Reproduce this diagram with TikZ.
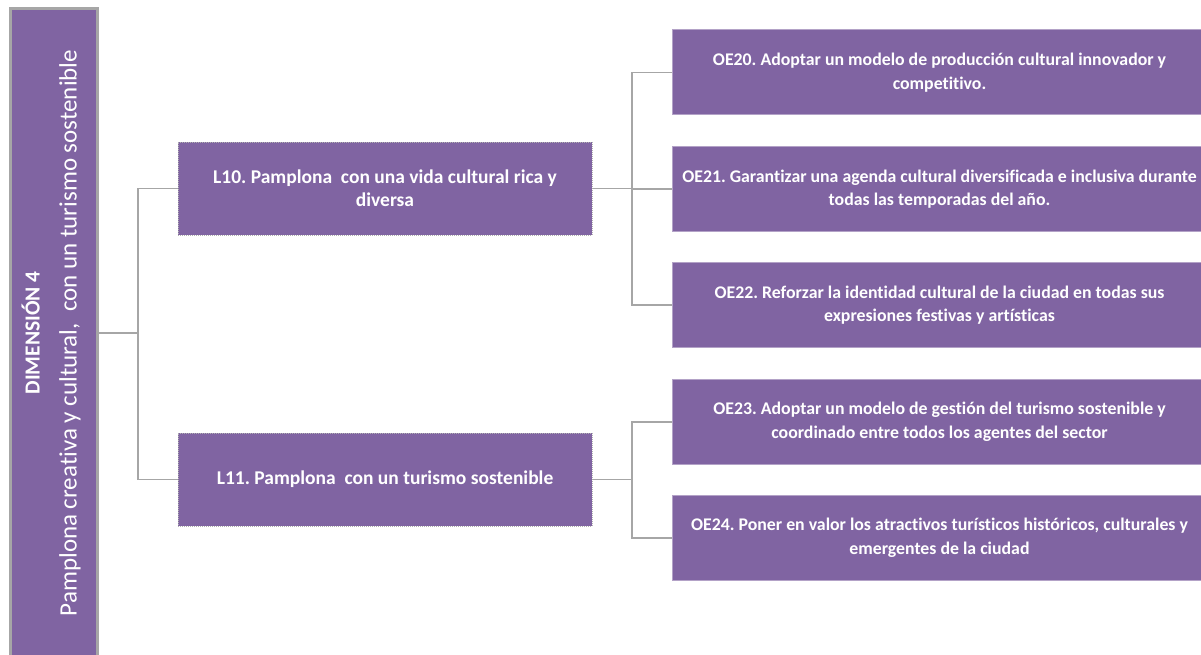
\documentclass[tikz,border=0pt]{standalone}
\usepackage{fontspec}
\setmainfont{Carlito}[Ligatures=NoCommon]
\frenchspacing
\definecolor{dimpurple}{HTML}{8064A2}
\definecolor{oeedge}{HTML}{B3A2C7}
\definecolor{linkgray}{HTML}{A6A6A6}
\tikzset{
  dimbox/.style={draw=gray!70, line width=3pt, fill=dimpurple, minimum width=87pt, minimum height=650pt, inner sep=0pt},
  lbox/.style={draw=gray!60, dash pattern=on 1pt off 1pt, line width=0.6pt, fill=dimpurple, minimum width=414pt, minimum height=93pt,
    text=white, align=center, font=\fontsize{19.5}{23}\selectfont\bfseries},
  oebox/.style={draw=oeedge, line width=1pt, fill=dimpurple, minimum width=535pt, minimum height=85pt,
    text=white, align=center, font=\fontsize{17.8}{23.5}\selectfont\bfseries},
  link/.style={draw=linkgray, line width=1.4pt},
}
\begin{document}
\begin{tikzpicture}[x=1pt, y=-1pt]
    \useasboundingbox (0,0) rectangle (1201,655);
    \node[dimbox] (dim) at (54,334) {};
    \node[rotate=90, text=white, align=center, font=\fontsize{25}{37}\selectfont] (dimtext) at (51,333)
      {{\fontsize{21.5}{37}\selectfont\bfseries DIMENSIÓN 4}\\Pamplona creativa y cultural,\ \ con un turismo sostenible};
    \node[lbox] (l10) at (385,188.5) {L10. Pamplona\ \ con una vida cultural rica y\\diversa};
    \node[lbox] (l11) at (385,479.5) {L11. Pamplona\ \ con un turismo sostenible};
    \node[oebox] (oe20) at (939.5,72.5) {OE20. Adoptar un modelo de producción cultural innovador y\\competitivo.};
    \node[oebox] (oe21) at (939.5,189) {OE21. Garantizar una agenda cultural diversificada e inclusiva durante\\todas las temporadas del año.};
    \node[oebox] (oe22) at (939.5,305) {OE22. Reforzar la identidad cultural de la ciudad en todas sus\\expresiones festivas y artísticas};
    \node[oebox] (oe23) at (939.5,422) {OE23. Adoptar un modelo de gestión del turismo sostenible y\\coordinado entre todos los agentes del sector};
    \node[oebox] (oe24) at (939.5,538) {OE24. Poner en valor los atractivos turísticos históricos, culturales y\\emergentes de la ciudad};
    \coordinate (fork) at (138,333);
    \coordinate (fork10) at (632,188.5);
    \coordinate (fork11) at (632,479.5);
    \draw[link] (dim.east |- fork) -- (fork);
    \draw[link] (fork) |- (l10.west);
    \draw[link] (fork) |- (l11.west);
    \draw[link] (l10.east) -- (fork10);
    \draw[link] (fork10) |- (oe20.west);
    \draw[link] (fork10) |- (oe21.west);
    \draw[link] (fork10) |- (oe22.west);
    \draw[link] (l11.east) -- (fork11);
    \draw[link] (fork11) |- (oe23.west);
    \draw[link] (fork11) |- (oe24.west);
  \end{tikzpicture}
\end{document}
